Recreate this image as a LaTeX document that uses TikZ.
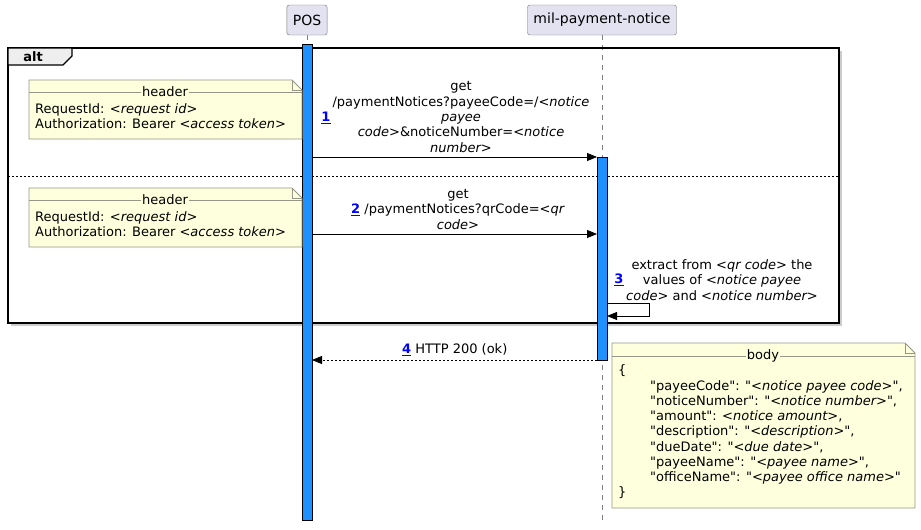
\documentclass[tikz,border=0pt]{standalone}
\usepackage{fontspec}
\setmainfont{DejaVu Sans}
\newfontfamily\jsonfont{DejaVu Sans}
\usetikzlibrary{arrows.meta}
\definecolor{partfill}{RGB}{226,226,240}
\definecolor{partline}{RGB}{115,115,115}
\definecolor{barblue}{RGB}{30,144,255}
\definecolor{notefill}{RGB}{254,255,221}
\definecolor{noteline}{RGB}{150,150,135}
\definecolor{tabfill}{RGB}{238,238,238}
\newcommand{\seqnum}[1]{\textcolor{blue}{\underline{\textbf{#1}}}}
\newcommand{\argtxt}[1]{\textit{<#1>}}
\tikzset{
	part/.style={draw=partline, fill=partfill, rounded corners=2.5pt, minimum height=30pt, inner xsep=6pt, font=\fontsize{14}{16}\selectfont},
	actbar/.style={draw=black, fill=barblue, line width=0.8pt, minimum width=10pt, inner sep=0pt, anchor=north},
	lifeline/.style={draw=gray, dash pattern=on 5pt off 5pt, line width=0.8pt},
	msg/.style={-{Triangle[length=10pt,width=8pt]}, line width=0.8pt},
	reply/.style={msg, dash pattern=on 2pt off 2pt},
	txt/.style={font=\fontsize{13}{15.3}\selectfont, inner sep=0pt},
	msgtxt/.style={txt, align=center},
	notebox/.style={draw=noteline, fill=notefill, line width=0.8pt},
	notetitle/.style={txt, fill=notefill, inner xsep=1pt}
}
\begin{document}
\begin{tikzpicture}[x=1pt,y=-1pt]
	\useasboundingbox (0,0) rectangle (921,530);
	%participants
	\node[part] (pos) at (307,20) {POS};
	\node[part] (mil) at (602,20) {mil-payment-notice};
	\draw[lifeline] (pos.south) -- (307,522) coordinate (posend);
	\draw[lifeline] (mil.south) -- (602,522) coordinate (milend);
	%alt frame
		% shadow
		\draw[gray!40, line width=1.4pt] (841,51) -- (841,325) -- (11,325);
		% box
		\draw[line width=1.4pt] (8,48) rectangle (839,323);
		\draw[line width=1.4pt, fill=tabfill] (8,48) -- (72,48) -- (72,56) -- (63,65) -- (8,65) -- cycle;
		\node[txt, font=\fontsize{13}{15}\selectfont\bfseries] (alt) at (33,56.5) {alt};
		% else
		\draw[dash pattern=on 2pt off 2pt, line width=0.8pt] (8,176) -- (839,176);
	%activations
	\node[actbar, minimum height=476pt] (posbar) at (307,44) {};
	\node[actbar, minimum height=203pt] (milbar) at (602,157) {};
	%message 1
		% note
		\draw[notebox] (29,80) -- (292,80) -- (302,90) -- (302,139) -- (29,139) -- cycle;
		\draw[noteline, line width=0.8pt] (292,80) -- (292,90) -- (302,90);
		\draw[noteline, line width=0.8pt] (29,92) -- (302,92);
		\node[notetitle] (head1) at (165,92) {header};
		\node[txt, align=left, anchor=west] (req1) at (35,116) {RequestId: \argtxt{request id}\\Authorization: Bearer \argtxt{access token}};
		% call
		\coordinate (m1a) at (312,157);
		\coordinate (m1b) at (597,157);
		\draw[msg] (m1a) -- (m1b);
		\node[msgtxt] (m1txt) at (461,117) {get\\/paymentNotices?payeeCode=/\textit{<notice}\\\textit{payee}\\\textit{code>}\&noticeNumber=\textit{<notice}\\\textit{number>}};
		\node[msgtxt] (n1) at (326,118) {\seqnum{1}};
	%message 2
		% note
		\draw[notebox] (29,188) -- (292,188) -- (302,198) -- (302,247) -- (29,247) -- cycle;
		\draw[noteline, line width=0.8pt] (292,188) -- (292,198) -- (302,198);
		\draw[noteline, line width=0.8pt] (29,200) -- (302,200);
		\node[notetitle] (head2) at (165,200) {header};
		\node[txt, align=left, anchor=west] (req2) at (35,224) {RequestId: \argtxt{request id}\\Authorization: Bearer \argtxt{access token}};
		% call
		\coordinate (m2a) at (312,234);
		\coordinate (m2b) at (597,234);
		\draw[msg] (m2a) -- (m2b);
		\node[msgtxt] (m2txt) at (458,209.5) {get\\\seqnum{2} /paymentNotices?qrCode=\textit{<qr}\\\textit{code>}};
	%message 3
		\coordinate (m3a) at (607,303);
		\coordinate (m3b) at (649,303);
		\coordinate (m3c) at (649,316);
		\coordinate (m3d) at (607,316);
		\draw[msg] (m3a) -- (m3b) -- (m3c) -- (m3d);
		\node[msgtxt] (m3txt) at (722,280) {extract from \argtxt{qr code} the\\values of \textit{<notice payee}\\\textit{code>} and \argtxt{notice number}};
		\node[msgtxt] (n3) at (619,280) {\seqnum{3}};
	%message 4
		\coordinate (m4a) at (597,360);
		\coordinate (m4b) at (312,360);
		\draw[reply] (m4a) -- (m4b);
		\node[msgtxt, anchor=west] (m4txt) at (402,350) {\seqnum{4} HTTP 200 (ok)};
		% note
		\draw[notebox] (612,343) -- (905,343) -- (915,353) -- (915,508) -- (612,508) -- cycle;
		\draw[noteline, line width=0.8pt] (905,343) -- (905,353) -- (915,353);
		\draw[noteline, line width=0.8pt] (612,356) -- (915,356);
		\node[notetitle] (head4) at (763,356) {body};
		\node[txt, font=\jsonfont\fontsize{13}{15.25}\selectfont, align=left, anchor=west] (body) at (618,432) {\{\\
			\hspace*{32pt}"payeeCode": "\argtxt{notice payee code}",\\
			\hspace*{32pt}"noticeNumber": "\argtxt{notice number}",\\
			\hspace*{32pt}"amount": \argtxt{notice amount},\\
			\hspace*{32pt}"description": "\argtxt{description}",\\
			\hspace*{32pt}"dueDate": "\argtxt{due date}",\\
			\hspace*{32pt}"payeeName": "\argtxt{payee name}",\\
			\hspace*{32pt}"officeName": "\argtxt{payee office name}"\\
			\}};
\end{tikzpicture}
\end{document}
